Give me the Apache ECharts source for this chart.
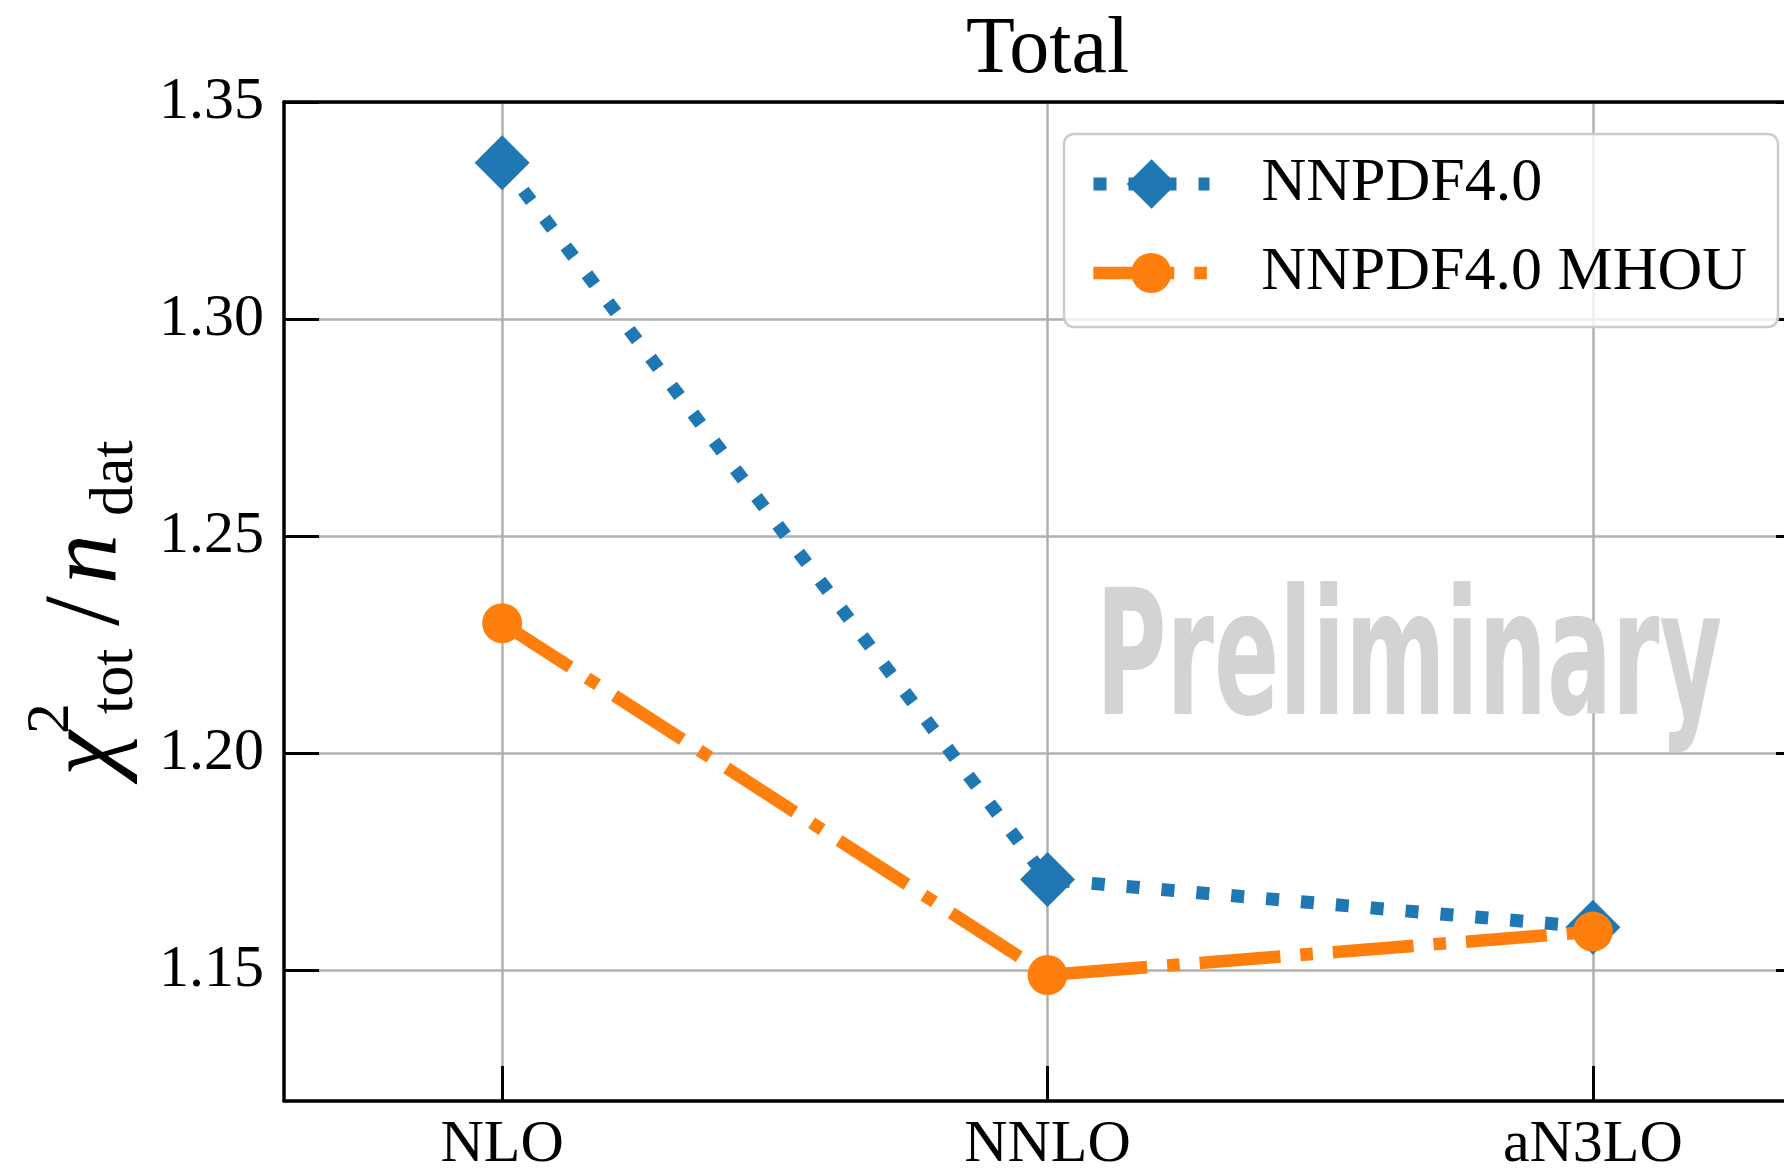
<!DOCTYPE html>
<html>
<head>
<meta charset="utf-8">
<title>Total chi2 per data point</title>
<script src="https://cdn.jsdelivr.net/npm/echarts@6/dist/echarts.min.js"></script>
<style>
  html, body { margin: 0; padding: 0; background: #ffffff; }
  #chart { width: 1784px; height: 1169px; }
</style>
</head>
<body>
<div id="chart"></div>
<script>
// Perturbative orders on the horizontal axis
const categories = ['NLO', 'NNLO', 'aN3LO'];
// chi2_tot / n_dat for each fit
const nnpdf40 = [1.336, 1.171, 1.160];
const nnpdf40Mhou = [1.230, 1.149, 1.159];
const seriesNames = ['NNPDF4.0', 'NNPDF4.0 MHOU'];
// Vertical axis ticks
const yTicks = [1.15, 1.20, 1.25, 1.30, 1.35];
const orderIndex = categories.map((_, i) => i);

const SERIF = '"Liberation Serif", "DejaVu Serif", serif';
const BLUE = '#1f77b4';
const ORANGE = '#ff7f0e';
const GRID_GREY = '#b0b0b0';

const chart = echarts.init(document.getElementById('chart'), null, { renderer: 'canvas' });

const spine = { show: true, onZero: false, lineStyle: { color: '#000', width: 3.5 } };
const innerTick = { show: true, inside: true, length: 35, lineStyle: { color: '#000', width: 3 } };
const gridLine = { show: true, lineStyle: { color: GRID_GREY, width: 2.5, type: 'solid' } };

// y-axis title: chi^2_tot / n_dat, set along the rotated baseline
const MAIN = 96, SUB = 62;
function piece(text, x, baseline, size, italic) {
  return {
    type: 'text',
    x: x,
    y: baseline - 0.305 * size,
    style: {
      text: text,
      font: (italic ? 'italic ' : '') + size + 'px ' + SERIF,
      fill: '#000',
      align: 'left',
      verticalAlign: 'middle'
    }
  };
}

const option = {
  animation: false,
  backgroundColor: '#ffffff',
  grid: {
    left: 284,
    top: 102,
    right: -27,
    bottom: 68,
    containLabel: false,
    outerBoundsMode: 'none'
  },
  xAxis: [
    {
      type: 'value',
      position: 'bottom',
      min: -0.4,
      max: 2.4,
      axisLine: spine,
      axisTick: Object.assign({}, innerTick, { customValues: orderIndex }),
      axisLabel: {
        customValues: orderIndex,
        formatter: (v) => categories[Math.round(v)],
        margin: 14,
        color: '#000',
        fontSize: 60,
        fontFamily: SERIF
      },
      splitLine: gridLine
    },
    {
      type: 'value',
      position: 'top',
      min: -0.4,
      max: 2.4,
      axisLine: spine,
      axisTick: { show: false },
      axisLabel: { show: false },
      splitLine: { show: false },
      name: 'Total',
      nameLocation: 'middle',
      nameGap: 11,
      nameTextStyle: { color: '#000', fontSize: 80, fontFamily: SERIF }
    }
  ],
  yAxis: [
    {
      type: 'value',
      position: 'left',
      min: 1.12,
      max: 1.35,
      axisLine: spine,
      axisTick: Object.assign({}, innerTick, { customValues: yTicks }),
      axisLabel: {
        customValues: yTicks,
        formatter: (v) => v.toFixed(2),
        margin: 20,
        color: '#000',
        fontSize: 60,
        fontFamily: SERIF
      },
      splitLine: gridLine
    },
    {
      type: 'value',
      position: 'right',
      min: 1.12,
      max: 1.35,
      axisLine: spine,
      axisTick: Object.assign({}, innerTick, { customValues: yTicks }),
      axisLabel: { show: false },
      splitLine: { show: false }
    }
  ],
  legend: [
    {
      data: [seriesNames[0]],
      orient: 'vertical',
      left: 1087,
      top: 153,
      padding: 0,
      itemWidth: 116,
      itemHeight: 62,
      z: 6,
      selectedMode: false,
      lineStyle: { width: 13 },
      textStyle: { color: '#000', fontSize: 62, fontFamily: SERIF, lineHeight: 62, padding: [0, 0, 0, 47] }
    },
    {
      data: [seriesNames[1]],
      orient: 'vertical',
      left: 1087,
      top: 242,
      padding: 0,
      itemWidth: 116,
      itemHeight: 50,
      z: 6,
      selectedMode: false,
      lineStyle: { width: 12.6 },
      textStyle: { color: '#000', fontSize: 62, fontFamily: SERIF, lineHeight: 50, padding: [0, 0, 0, 47] }
    }
  ],
  graphic: [
    {
      // legend frame
      type: 'rect',
      z: 5,
      shape: { x: 1064, y: 134, width: 714, height: 193, r: 10 },
      style: { fill: 'rgba(255,255,255,0.8)', stroke: '#cccccc', lineWidth: 2.5 }
    },
    {
      // watermark
      type: 'text',
      z: 1,
      x: 1096,
      y: 722 - 0.305 * 175,
      scaleX: 0.55,
      style: {
        text: 'Preliminary',
        font: 'bold 175px "DejaVu Sans", sans-serif',
        fill: '#d3d3d3',
        align: 'left',
        verticalAlign: 'middle'
      }
    },
    {
      // axis title, reading bottom to top
      type: 'group',
      x: 119,
      y: 774,
      rotation: Math.PI / 2,
      children: [
        piece('\u03c7', -2, 0, MAIN + 6, true),
        piece('2', 40, -48, SUB, false),
        piece('tot', 60, 16, SUB, false),
        piece('/', 148, 4, MAIN + 12, false),
        piece('n', 190, 0, MAIN + 4, true),
        piece('dat', 258, 16, SUB, false)
      ]
    }
  ],
  series: [
    {
      name: seriesNames[0],
      type: 'line',
      xAxisIndex: 0,
      yAxisIndex: 0,
      data: orderIndex.map((i) => [i, nnpdf40[i]]),
      symbol: 'diamond',
      symbolSize: 55,
      itemStyle: { color: BLUE },
      lineStyle: { color: BLUE, width: 13, type: [13, 22], cap: 'butt' },
      z: 3
    },
    {
      name: seriesNames[1],
      type: 'line',
      xAxisIndex: 0,
      yAxisIndex: 0,
      data: orderIndex.map((i) => [i, nnpdf40Mhou[i]]),
      symbol: 'circle',
      symbolSize: 40,
      itemStyle: { color: ORANGE },
      lineStyle: { color: ORANGE, width: 12.6, type: [81, 20, 12.6, 20], cap: 'butt' },
      z: 4
    }
  ]
};

chart.setOption(option);
</script>
</body>
</html>
